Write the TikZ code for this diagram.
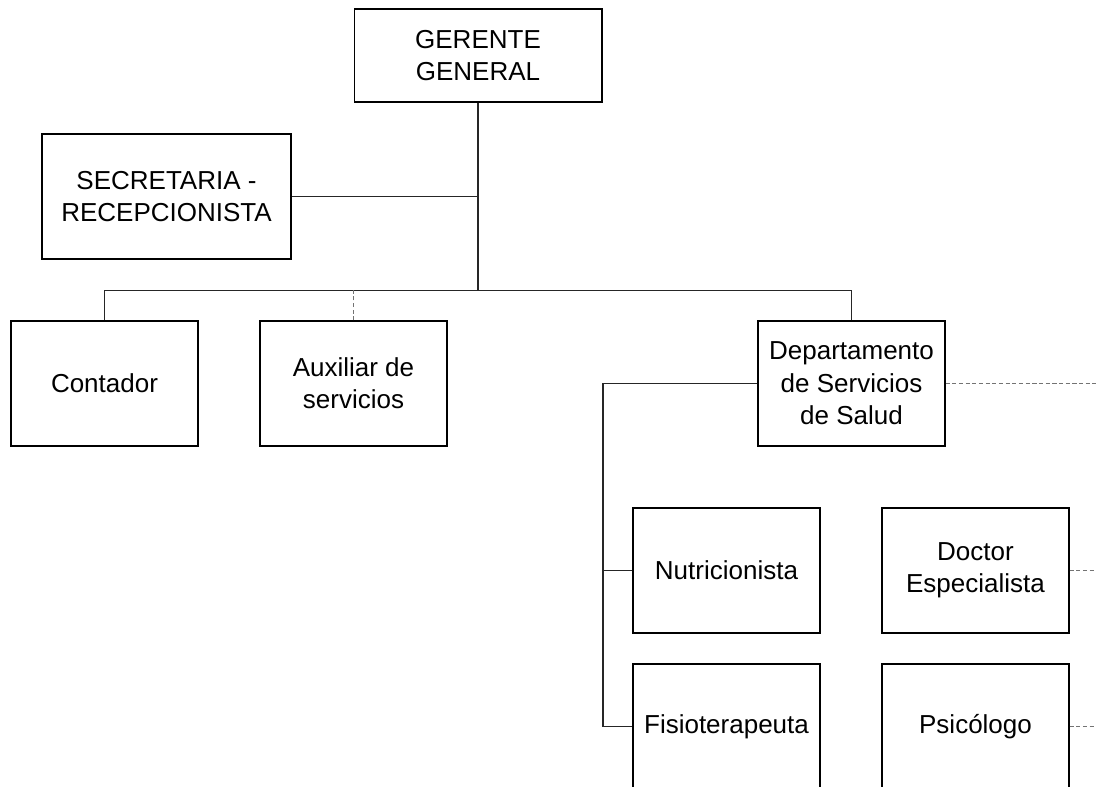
\documentclass[tikz,border=0pt]{standalone}
\usepackage{fontspec}
\setmainfont{Liberation Sans}
\usetikzlibrary{positioning}
\begin{document}
\begin{tikzpicture}[x=0.02cm,y=-0.02cm,
        puesto/.style={draw=black,line width=0.6pt,fill=white,align=center,inner sep=0pt,
            minimum width=3.74cm,minimum height=2.5cm,font=\fontsize{14.8pt}{18.4pt}\selectfont},
        enlace/.style={draw=black!85,line width=0.6pt},
        staff/.style={draw=black!55,line width=0.6pt,dash pattern=on 2.4pt off 1.4pt}]
                \useasboundingbox (0,0) rectangle (1096,787);
                \clip (0,0) rectangle (1096,787);
                %% Direccion
                \node[puesto,minimum width=4.96cm,minimum height=1.86cm] (gerente) at (478,55.5) {GERENTE\\GENERAL};
                \node[puesto,minimum width=4.98cm] (secretaria) at (166.5,196.5) {SECRETARIA -\\RECEPCIONISTA};
                %% Segundo nivel
                \node[puesto] (contador) at (104.5,383.5) {Contador};
                \node[puesto] (auxiliar) at (353.5,383.5) {Auxiliar de\\servicios};
                \node[puesto] (depto) at (851.5,383.5) {Departamento\\de Servicios\\de Salud};
                %% Salud
                \node[puesto] (nutri) at (726.5,570.5) {Nutricionista};
                \node[puesto] (doctor) at (975.5,570.5) {Doctor\\Especialista};
                \node[puesto] (fisio) at (726.5,726.5) {Fisioterapeuta};
                \node[puesto] (psico) at (975.5,726.5) {Psicólogo};
                %% puntos de union
                \coordinate (bus) at (478,290.5);
                \coordinate (spine) at (603,383.5);
                \coordinate (edge) at (1096,0);
                %% lineas de mando
                \draw[enlace] (gerente.south) -- (bus);
                \draw[enlace] (secretaria.east) -- (secretaria.east -| bus);
                \draw[enlace] (contador.north) |- (bus);
                \draw[enlace] (depto.north) |- (bus);
                \draw[staff] (auxiliar.north) -- (auxiliar.north |- bus);
                \draw[enlace] (depto.west) -- (spine) |- (fisio.west);
                \draw[enlace] (nutri.west) -- (nutri.west -| spine);
                %% lineas punteadas
                \draw[staff] (depto.east) -- (depto.east -| edge);
                \draw[staff] (doctor.east) -- (doctor.east -| edge);
                \draw[staff] (psico.east) -- (psico.east -| edge);
            \end{tikzpicture}
\end{document}
